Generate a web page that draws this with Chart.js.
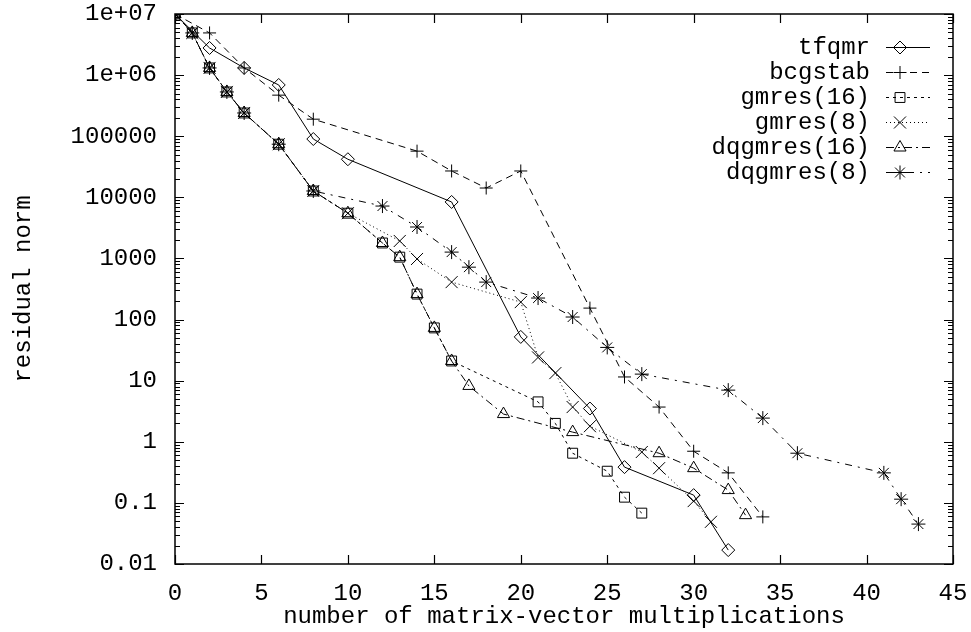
<!DOCTYPE html>
<html>
<head>
<meta charset="utf-8">
<title>residual norm vs matrix-vector multiplications</title>
<script src="https://cdn.jsdelivr.net/npm/chart.js@4/dist/chart.umd.min.js"></script>
<style>
  html, body { margin: 0; padding: 0; background: #fff; }
  canvas { display: block; }
</style>
</head>
<body>
<canvas id="c" width="971" height="632"></canvas>
<script>
// Residual norm history of several Krylov solvers
const tfqmrX = [0, 2, 4, 6, 8, 10, 16, 20, 24, 26, 30, 32];
const tfqmrY = [1e7, 2.78e6, 1.31e6, 6.9e5, 9.0e4, 4.2e4, 8400, 52, 3.5, 0.385, 0.134, 0.0169];

const bcgstabX = [0, 2, 4, 6, 8, 14, 16, 18, 20, 24, 26, 28, 30, 32, 34];
const bcgstabY = [1e7, 4.9e6, 1.31e6, 4.7e5, 1.9e5, 5.7e4, 2.7e4, 1.42e4, 2.7e4, 154, 11.5, 3.7, 0.70, 0.31, 0.059];

const gmres16X = [0, 1, 2, 3, 4, 6, 8, 10, 12, 13, 14, 15, 16, 21, 22, 23, 25, 26, 27];
const gmres16Y = [1e7, 4.9e6, 1.31e6, 5.3e5, 2.4e5, 7.4e4, 1.27e4, 5500, 1790, 1050, 261, 73, 21, 4.5, 2.0, 0.65, 0.33, 0.124, 0.068];

const gmres8X = [0, 1, 2, 3, 4, 6, 8, 10, 13, 14, 16, 20, 21, 22, 23, 24, 27, 28, 30, 31];
const gmres8Y = [1e7, 4.9e6, 1.31e6, 5.3e5, 2.4e5, 7.4e4, 1.27e4, 5500, 1930, 980, 410, 193, 24, 13.3, 3.7, 1.8, 0.68, 0.37, 0.107, 0.049];

const dqgmres16X = [0, 1, 2, 3, 4, 6, 8, 10, 12, 13, 14, 15, 16, 17, 19, 23, 28, 30, 32, 33];
const dqgmres16Y = [1e7, 4.9e6, 1.31e6, 5.3e5, 2.4e5, 7.4e4, 1.27e4, 5500, 1790, 1050, 261, 73, 21, 8.2, 2.84, 1.44, 0.65, 0.37, 0.162, 0.063];

const dqgmres8X = [0, 1, 2, 3, 4, 6, 8, 12, 14, 16, 17, 18, 21, 23, 25, 27, 32, 34, 36, 41, 42, 43];
const dqgmres8Y = [1e7, 4.9e6, 1.31e6, 5.3e5, 2.4e5, 7.4e4, 1.27e4, 7200, 3270, 1270, 720, 410, 225, 110, 35, 12.8, 7.0, 2.44, 0.65, 0.31, 0.115, 0.045];

const seriesNames = ["tfqmr", "bcgstab", "gmres(16)", "gmres(8)", "dqgmres(16)", "dqgmres(8)"];

const xTickValues = [0, 5, 10, 15, 20, 25, 30, 35, 40, 45];
const xTickLabels = ["0", "5", "10", "15", "20", "25", "30", "35", "40", "45"];
const yTickValues = [0.01, 0.1, 1, 10, 100, 1000, 10000, 100000, 1e6, 1e7];
const yTickLabels = ["0.01", "0.1", "1", "10", "100", "1000", "10000", "100000", "1e+06", "1e+07"];

const FONT = "'Liberation Mono', 'DejaVu Sans Mono', monospace";

function pairs(xs, ys) {
  return xs.map((x, i) => ({ x: x, y: ys[i] }));
}

// line/marker style per solver, in gnuplot's default order
const styles = [
  { dash: [],           point: 'rectRot',  radius: 6.5 },
  { dash: [7, 5],       point: 'cross',    radius: 6.5 },
  { dash: [3, 4],       point: 'rect',     radius: 7 },
  { dash: [1, 3],       point: 'crossRot', radius: 8.5 },
  { dash: [8, 4, 2, 4], point: 'triangle', radius: 7 },
  { dash: [7, 6, 2, 6], point: 'star',     radius: 7 }
];

const seriesData = [
  pairs(tfqmrX, tfqmrY),
  pairs(bcgstabX, bcgstabY),
  pairs(gmres16X, gmres16Y),
  pairs(gmres8X, gmres8Y),
  pairs(dqgmres16X, dqgmres16Y),
  pairs(dqgmres8X, dqgmres8Y)
];

const datasets = seriesNames.map((name, i) => ({
  label: name,
  data: seriesData[i],
  borderColor: '#000',
  borderWidth: 1,
  borderDash: styles[i].dash,
  pointStyle: styles[i].point,
  pointRadius: styles[i].radius,
  pointBorderColor: '#000',
  pointBackgroundColor: 'rgba(0,0,0,0)',
  pointBorderWidth: 1,
  fill: false,
  tension: 0
}));

// frame, inward tick marks (mirrored on all sides) and the key
const framePlugin = {
  id: 'frame',
  afterDraw(chart) {
    const ctx = chart.ctx;
    const a = chart.chartArea;
    const xs = chart.scales.x, ys = chart.scales.y;
    ctx.save();
    ctx.strokeStyle = '#000';
    ctx.lineWidth = 1.5;
    ctx.setLineDash([]);
    ctx.strokeRect(a.left, a.top, a.right - a.left, a.bottom - a.top);

    ctx.lineWidth = 1.2;
    ctx.beginPath();
    // x ticks
    xTickValues.forEach(v => {
      const px = Math.round(xs.getPixelForValue(v)) + 0.5;
      ctx.moveTo(px, a.bottom); ctx.lineTo(px, a.bottom - 9);
      ctx.moveTo(px, a.top); ctx.lineTo(px, a.top + 9);
    });
    // y ticks: decades long, 2..9 short
    yTickValues.forEach((v, k) => {
      const py = Math.round(ys.getPixelForValue(v)) + 0.5;
      ctx.moveTo(a.left, py); ctx.lineTo(a.left + 9, py);
      ctx.moveTo(a.right, py); ctx.lineTo(a.right - 9, py);
      if (k < yTickValues.length - 1) {
        for (let m = 2; m <= 9; m++) {
          const q = Math.round(ys.getPixelForValue(v * m)) + 0.5;
          ctx.moveTo(a.left, q); ctx.lineTo(a.left + 5, q);
          ctx.moveTo(a.right, q); ctx.lineTo(a.right - 5, q);
        }
      }
    });
    ctx.stroke();

    // key
    const textRight = 870, lineL = 886, lineR = 930, markX = 900, top = 47, step = 25;
    ctx.font = '24px ' + FONT;
    ctx.fillStyle = '#000';
    ctx.textAlign = 'right';
    ctx.textBaseline = 'middle';
    chart.data.datasets.forEach((ds, i) => {
      const y = top + i * step;
      ctx.fillText(ds.label, textRight, y + 1);
      ctx.lineWidth = 1;
      ctx.setLineDash(ds.borderDash);
      ctx.beginPath();
      ctx.moveTo(lineL, y + 0.5); ctx.lineTo(lineR, y + 0.5);
      ctx.stroke();
      ctx.setLineDash([]);
      ctx.fillStyle = 'rgba(0,0,0,0)';
      Chart.helpers.drawPoint(ctx, {
        pointStyle: ds.pointStyle, radius: ds.pointRadius, rotation: 0, borderWidth: 1
      }, markX, y + 0.5);
      ctx.fillStyle = '#000';
    });
    ctx.restore();
  }
};

Chart.defaults.font.family = FONT;
Chart.defaults.font.size = 24;
Chart.defaults.color = '#000';

new Chart(document.getElementById('c'), {
  type: 'line',
  data: { datasets: datasets },
  options: {
    responsive: false,
    animation: false,
    devicePixelRatio: 1,
    layout: { padding: { left: 0, right: 18, top: 14, bottom: 0 } },
    plugins: { legend: { display: false }, tooltip: { enabled: false } },
    elements: { line: { borderCapStyle: 'butt' } },
    scales: {
      x: {
        type: 'linear',
        min: 0, max: 45,
        afterBuildTicks(scale) { scale.ticks = xTickValues.map(v => ({ value: v })); },
        afterFit(scale) { scale.height = 68; scale.paddingLeft = 0; scale.paddingRight = 0; },
        grid: { display: false, drawTicks: false },
        border: { display: false },
        ticks: {
          autoSkip: false, maxRotation: 0, padding: 15,
          callback: (v) => { const i = xTickValues.indexOf(v); return i >= 0 ? xTickLabels[i] : ''; }
        },
        title: { display: true, text: 'number of matrix-vector multiplications', padding: { top: 0, bottom: 1 } }
      },
      y: {
        type: 'logarithmic',
        min: 0.01, max: 1e7,
        afterBuildTicks(scale) { scale.ticks = yTickValues.map(v => ({ value: v })); },
        afterFit(scale) { scale.width = 175; scale.paddingTop = 0; scale.paddingBottom = 0; },
        grid: { display: false, drawTicks: false },
        border: { display: false },
        ticks: {
          autoSkip: false, padding: 18,
          callback: (v) => { const i = yTickValues.findIndex(t => Math.abs(t - v) / t < 1e-9); return i >= 0 ? yTickLabels[i] : ''; }
        },
        title: { display: true, text: 'residual norm', padding: { top: 9, bottom: 0 } }
      }
    }
  },
  plugins: [framePlugin]
});
</script>
</body>
</html>
